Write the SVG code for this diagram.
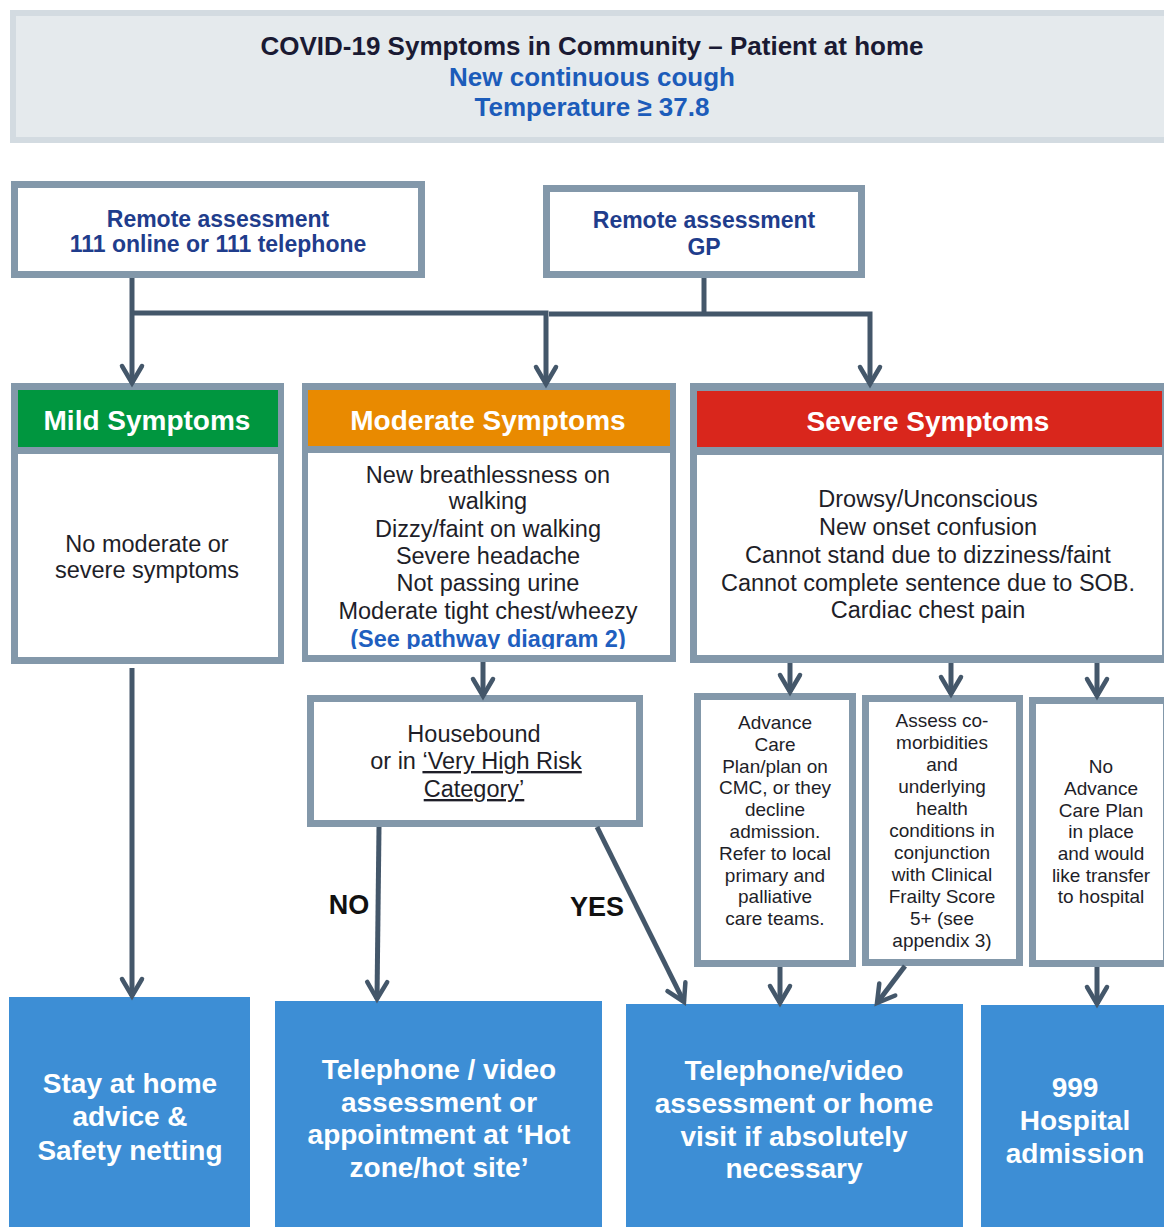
<svg xmlns="http://www.w3.org/2000/svg" width="1164" height="1227" viewBox="0 0 1164 1227">
<defs>
<style>
text{font-family:"Liberation Sans",Arial,sans-serif;text-anchor:middle}
.border{fill:#8398aa}
.white{fill:#ffffff}
.conn{fill:none;stroke:#44576a;stroke-width:5;marker-end:url(#arr)}
.connn{fill:none;stroke:#44576a;stroke-width:5}
.body{font-size:23.5px;fill:#1e1e28}
.small{font-size:19px;fill:#1e1e28}
.hdr{font-size:28px;font-weight:bold;fill:#ffffff}
.out{font-size:28px;font-weight:bold;fill:#ffffff}
.remote{font-size:23px;font-weight:bold;fill:#1f3d8c}
.blue{fill:#3d8ed5}
.lbl{font-size:27px;font-weight:bold;fill:#111111}
</style>
<marker id="arr" markerUnits="userSpaceOnUse" orient="auto" viewBox="-22 -14 26 28" refX="0" refY="0" markerWidth="26" markerHeight="28" overflow="visible">
<path d="M-17,-10 L0,0 L-17,10" fill="none" stroke="#44576a" stroke-width="4.5" stroke-linecap="round" stroke-linejoin="miter"/>
</marker>
<clipPath id="modclip"><rect x="308" y="453" width="362" height="196"/></clipPath>
</defs>

<rect width="1164" height="1227" fill="#ffffff"/>

<g id="title">
<rect x="10" y="10" width="1164" height="133" fill="#d3dbe1"/>
<rect x="16" y="16" width="1154" height="121" fill="#e5eaed"/>
<text x="592" y="55" font-size="26" font-weight="bold" fill="#1a1a33">COVID-19 Symptoms in Community – Patient at home</text>
<text x="592" y="86" font-size="26" font-weight="bold" fill="#1c5cba">New continuous cough</text>
<text x="592" y="116" font-size="26" font-weight="bold" fill="#1c5cba">Temperature ≥ 37.8</text>
</g>

<g id="remote111">
<rect class="border" x="11" y="181" width="414" height="97"/>
<rect class="white" x="18" y="188" width="400" height="83"/>
<text class="remote" x="218" y="227">Remote assessment</text>
<text class="remote" x="218" y="252">111 online or 111 telephone</text>
</g>

<g id="remoteGP">
<rect class="border" x="543" y="185" width="322" height="93"/>
<rect class="white" x="550" y="192" width="308" height="79"/>
<text class="remote" x="704" y="228">Remote assessment</text>
<text class="remote" x="704" y="255">GP</text>
</g>

<g id="mild">
<rect class="border" x="11" y="383" width="273" height="281"/>
<rect x="18" y="390" width="260" height="57" fill="#00963f"/>
<rect class="white" x="18" y="454" width="260" height="203"/>
<text class="hdr" x="147" y="430">Mild Symptoms</text>
<text class="body" x="147" y="552">No moderate or</text>
<text class="body" x="147" y="578">severe symptoms</text>
</g>

<g id="moderate">
<rect class="border" x="302" y="383" width="374" height="279"/>
<rect x="308" y="390" width="362" height="56" fill="#e98a00"/>
<rect class="white" x="308" y="453" width="362" height="202"/>
<text class="hdr" x="488" y="430">Moderate Symptoms</text>
<g clip-path="url(#modclip)">
<text class="body" x="488" y="483">New breathlessness on</text>
<text class="body" x="488" y="509">walking</text>
<text class="body" x="488" y="537">Dizzy/faint on walking</text>
<text class="body" x="488" y="564">Severe headache</text>
<text class="body" x="488" y="591">Not passing urine</text>
<text class="body" x="488" y="619">Moderate tight chest/wheezy</text>
<text x="488" y="647" font-size="23.5" font-weight="bold" fill="#1f5fbf">(See pathway diagram 2)</text>
</g>
</g>

<g id="severe">
<rect class="border" x="690" y="383" width="480" height="280"/>
<rect x="697" y="391" width="465" height="56" fill="#d9261c"/>
<rect class="white" x="697" y="455" width="465" height="200"/>
<text class="hdr" x="928" y="431">Severe Symptoms</text>
<text class="body" x="928" y="507">Drowsy/Unconscious</text>
<text class="body" x="928" y="535">New onset confusion</text>
<text class="body" x="928" y="563">Cannot stand due to dizziness/faint</text>
<text class="body" x="928" y="591">Cannot complete sentence due to SOB.</text>
<text class="body" x="928" y="618">Cardiac chest pain</text>
</g>

<g id="housebound">
<rect class="border" x="307" y="695" width="336" height="132"/>
<rect class="white" x="314" y="702" width="322" height="118"/>
<text class="body" x="474" y="742">Housebound</text>
<text class="body" x="476" y="769">or in <tspan text-decoration="underline">‘Very High Risk</tspan></text>
<text class="body" x="474" y="797"><tspan text-decoration="underline">Category’</tspan></text>
</g>

<g id="advanceCare">
<rect class="border" x="694" y="693" width="162" height="274"/>
<rect class="white" x="701" y="700" width="148" height="260"/>
<text class="small" x="775" y="729">Advance</text>
<text class="small" x="775" y="751">Care</text>
<text class="small" x="775" y="773">Plan/plan on</text>
<text class="small" x="775" y="794">CMC, or they</text>
<text class="small" x="775" y="816">decline</text>
<text class="small" x="775" y="838">admission.</text>
<text class="small" x="775" y="860">Refer to local</text>
<text class="small" x="775" y="882">primary and</text>
<text class="small" x="775" y="903">palliative</text>
<text class="small" x="775" y="925">care teams.</text>
</g>

<g id="assess">
<rect class="border" x="862" y="695" width="161" height="271"/>
<rect class="white" x="869" y="702" width="147" height="257"/>
<text class="small" x="942" y="727">Assess co-</text>
<text class="small" x="942" y="749">morbidities</text>
<text class="small" x="942" y="771">and</text>
<text class="small" x="942" y="793">underlying</text>
<text class="small" x="942" y="815">health</text>
<text class="small" x="942" y="837">conditions in</text>
<text class="small" x="942" y="859">conjunction</text>
<text class="small" x="942" y="881">with Clinical</text>
<text class="small" x="942" y="903">Frailty Score</text>
<text class="small" x="942" y="925">5+ (see</text>
<text class="small" x="942" y="947">appendix 3)</text>
</g>

<g id="noPlan">
<rect class="border" x="1029" y="697" width="141" height="270"/>
<rect class="white" x="1036" y="704" width="127" height="256"/>
<text class="small" x="1101" y="773">No</text>
<text class="small" x="1101" y="795">Advance</text>
<text class="small" x="1101" y="817">Care Plan</text>
<text class="small" x="1101" y="838">in place</text>
<text class="small" x="1101" y="860">and would</text>
<text class="small" x="1101" y="882">like transfer</text>
<text class="small" x="1101" y="903">to hospital</text>
</g>

<g id="stayHome">
<rect class="blue" x="9" y="997" width="241" height="230"/>
<text class="out" x="130" y="1093">Stay at home</text>
<text class="out" x="130" y="1126">advice &amp;</text>
<text class="out" x="130" y="1160">Safety netting</text>
</g>

<g id="hotSite">
<rect class="blue" x="275" y="1001" width="327" height="226"/>
<text class="out" x="439" y="1079">Telephone / video</text>
<text class="out" x="439" y="1112">assessment or</text>
<text class="out" x="439" y="1144">appointment at ‘Hot</text>
<text class="out" x="439" y="1177">zone/hot site’</text>
</g>

<g id="homeVisit">
<rect class="blue" x="626" y="1004" width="337" height="223"/>
<text class="out" x="794" y="1080">Telephone/video</text>
<text class="out" x="794" y="1113">assessment or home</text>
<text class="out" x="794" y="1146">visit if absolutely</text>
<text class="out" x="794" y="1178">necessary</text>
</g>

<g id="hospital">
<rect class="blue" x="981" y="1005" width="189" height="222"/>
<text class="out" x="1075" y="1097">999</text>
<text class="out" x="1075" y="1130">Hospital</text>
<text class="out" x="1075" y="1163">admission</text>
</g>

<g id="connectors">
<path class="conn" d="M132,278 V383"/>
<path class="conn" d="M132,313 H546 V384"/>
<path class="connn" d="M704,278 V314"/>
<path class="conn" d="M549,314 H870 V384"/>
<path class="conn" d="M483,662 V696"/>
<path class="conn" d="M790,663 V692"/>
<path class="conn" d="M951,663 V694"/>
<path class="conn" d="M1097,663 V696"/>
<path class="conn" d="M132,668 V996"/>
<path class="conn" d="M379,827 L377,999"/>
<path class="conn" d="M597,827 L684,1002"/>
<path class="conn" d="M780,967 V1003"/>
<path class="conn" d="M905,966 L877,1003"/>
<path class="conn" d="M1097,967 V1004"/>
<text class="lbl" x="349" y="914">NO</text>
<text class="lbl" x="597" y="916">YES</text>
</g>
</svg>
